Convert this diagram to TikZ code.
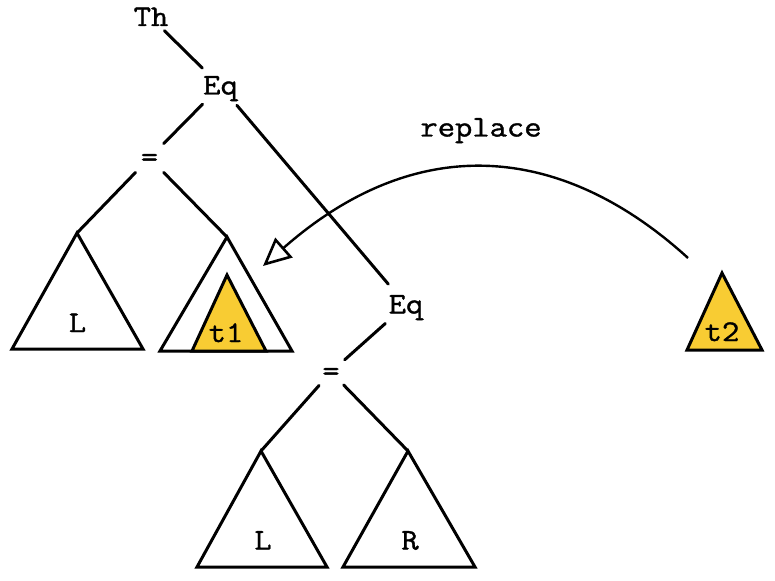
\documentclass[tikz,border=0pt]{standalone}
\usepackage{fontspec}
\setmonofont[FakeBold=1.2]{Latin Modern Mono}
\usetikzlibrary{arrows.meta}
\definecolor{tyellow}{RGB}{248,204,51}
\begin{document}
\begin{tikzpicture}[x=1pt,y=-1pt,
  txt/.style={font=\ttfamily\fontsize{30}{30}\selectfont, text height=17pt, text depth=0pt, inner sep=0pt, anchor=center, xscale=1.12},
  lab/.style={txt, shape=circle, minimum size=#1},
  lab/.default=44pt,
  edge/.style={line width=3pt, line cap=round},
  tri/.style={line width=3pt, line join=miter},
  sub/.style={tri, fill=tyellow},
  replarrow/.style={line width=2.4pt, -{Triangle[open, length=28pt, width=26pt, line width=2.6pt]}}]
\useasboundingbox (0,0) rectangle (775,580);

% labels of the tree
\node[lab=34pt] (th)  at (151,17.5) {Th};
\node[lab=48pt] (eq1) at (220.5,86) {Eq};
\node[lab=38pt] (eqs1) at (149.5,158) {=};
\node[lab=52pt] (eq2) at (406,305) {Eq};
\node[lab=34pt] (eqs2) at (331,372) {=};
\node[txt] (repl) at (481,128) {replace};

% apexes of subtrees
\coordinate (aL1) at (77,233);
\coordinate (aT)  at (227,237);
\coordinate (aL2) at (261,451);
\coordinate (aR2) at (408,451);

% subtree triangles
\draw[tri] (aL1) -- (12,349) -- (143,349) -- cycle;
\draw[tri] (aT) -- (160,351) -- (292,351) -- cycle;
\draw[sub] (227,275) -- (192,351) -- (266,351) -- cycle;
\draw[tri] (aL2) -- (197,567) -- (327,567) -- cycle;
\draw[tri] (aR2) -- (343,567) -- (475,567) -- cycle;
\draw[sub] (722,273) -- (687,350) -- (762,350) -- cycle;

\node[txt] (L1) at (77.5,323.5) {L};
\node[txt] (t1) at (226,333.5) {t1};
\node[txt] (L2) at (263,541) {L};
\node[txt] (R2) at (410,541) {R};
\node[txt] (t2) at (722,332.5) {t2};

% tree edges
\draw[edge] (th) -- (eq1);
\draw[edge] (eq1) -- (eqs1);
\draw[edge] (eq1) -- (eq2);
\draw[edge] (eqs1) -- (aL1);
\draw[edge] (eqs1) -- (aT);
\draw[edge] (eq2) -- (eqs2);
\draw[edge] (eqs2) -- (aL2);
\draw[edge] (eqs2) -- (aR2);

% replace arrow
\coordinate (from) at (688,258);
\coordinate (to) at (263,266);
\draw[replarrow] (from) .. controls (565,146) and (420,128) .. (to);
\end{tikzpicture}
\end{document}
